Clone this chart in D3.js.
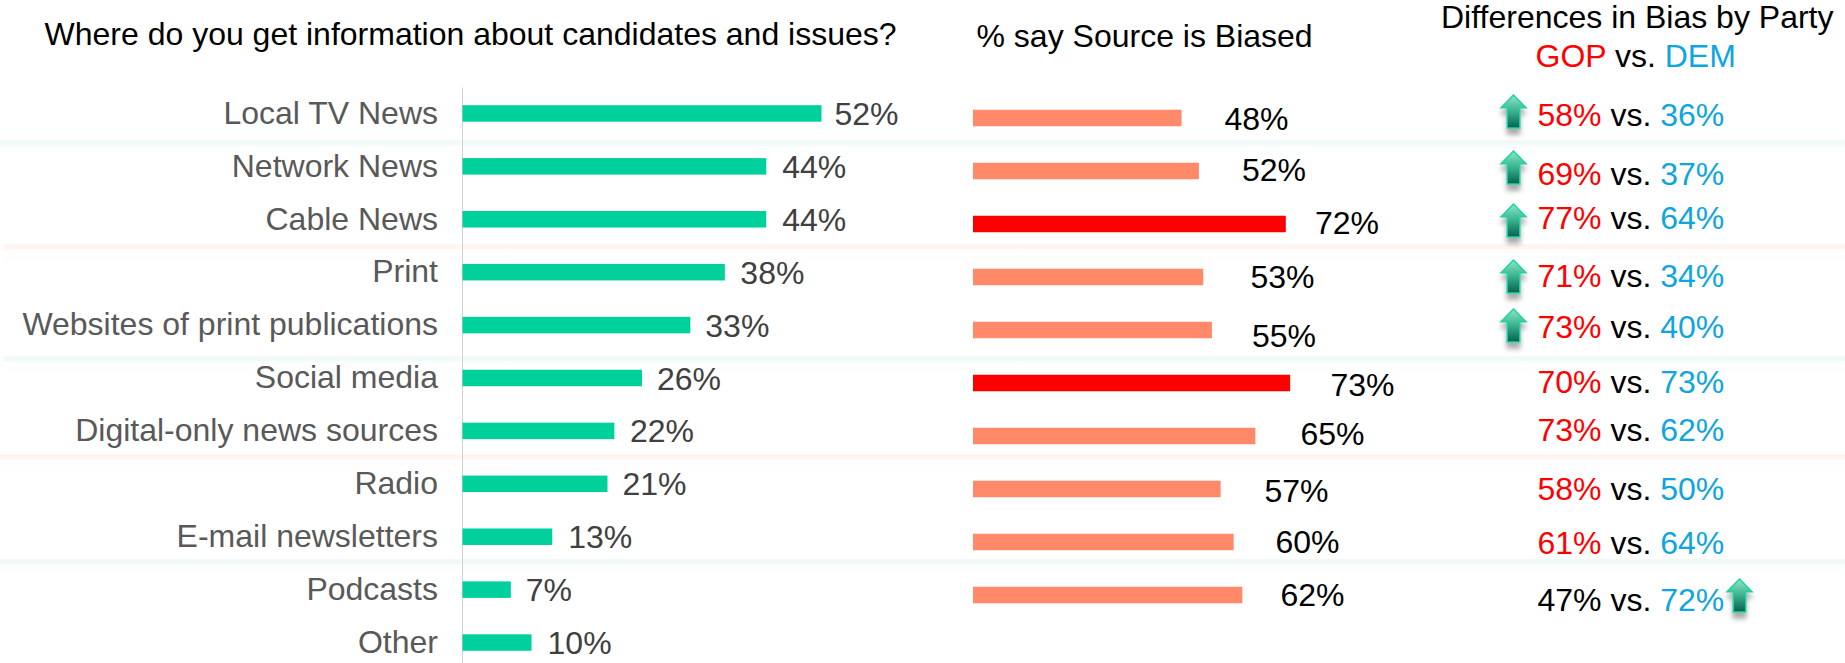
<!DOCTYPE html>
<html>
<head>
<meta charset="utf-8">
<script src="https://cdn.jsdelivr.net/npm/d3@7/dist/d3.min.js"></script>
<style>
  html, body { margin: 0; padding: 0; background: #fff; }
  svg { display: block; font-family: "Liberation Sans", Arial, sans-serif; }
</style>
</head>
<body>
<svg id="chart" width="1845" height="663"></svg>
<script>
// Survey values, all in percent
const sources = ["Local TV News", "Network News", "Cable News", "Print", "Websites of print publications",
  "Social media", "Digital-only news sources", "Radio", "E-mail newsletters", "Podcasts", "Other"];
const usage = [52, 44, 44, 38, 33, 26, 22, 21, 13, 7, 10];
const biased = [48, 52, 72, 53, 55, 73, 65, 57, 60, 62];
const gopBias = [58, 69, 77, 71, 73, 70, 73, 58, 61, 47];
const demBias = [36, 37, 64, 34, 40, 73, 62, 50, 64, 72];
const titleLeft = "Where do you get information about candidates and issues?";
const titleMiddle = "% say Source is Biased";
const titleRight = "Differences in Bias by Party";

// Layout of the labels that do not sit at a fixed distance from their marks
const usageLabelGap = [13, 16, 16, 15.5, 15, 15, 15.5, 15, 16, 15, 16];
const biasedLabelX = [1224.5, 1242, 1315, 1250.5, 1252, 1330.5, 1300.5, 1264.5, 1275.5, 1280.5];
const biasedLabelY = [130, 181, 234, 288, 347, 396, 444.5, 502, 552.5, 605.5];
const partyRowY = [126, 185, 228.5, 287, 338, 393.3, 441.3, 500.3, 554.3, 611];
const arrowTops = [
  { x: 1513.5, y: 95 }, { x: 1513.5, y: 151 }, { x: 1513.5, y: 204 },
  { x: 1513.5, y: 260 }, { x: 1513.5, y: 309 }, { x: 1739.5, y: 579 }
];
const bandRows = [
  { y: 140, x: 0, tint: "#f1faf8" }, { y: 244, x: 4, tint: "#fdf5f1" },
  { y: 356, x: 4, tint: "#f1faf8" }, { y: 454, x: 0, tint: "#fdf5f1" },
  { y: 559, x: 0, tint: "#f1faf8" }
];

const GREEN = "#00d09c", SALMON = "#ff8969", RED = "#ff0000", BLUE = "#0ea5e0";
const FONT_SIZE = 32;

const svg = d3.select("#chart");
const defs = svg.append("defs");

// Arrow fill: pale mint at the tip, dark teal at the foot
const arrowFill = defs.append("linearGradient").attr("id", "arrowFill")
  .attr("x1", 0).attr("x2", 0).attr("y1", 0).attr("y2", 1);
[["0%", "#8fe6c8"], ["45%", "#3fb893"], ["100%", "#07604f"]].forEach(([o, c]) =>
  arrowFill.append("stop").attr("offset", o).attr("stop-color", c));

const arrowShadow = defs.append("filter").attr("id", "arrowShadow")
  .attr("x", "-50%").attr("y", "-30%").attr("width", "200%").attr("height", "170%");
arrowShadow.append("feDropShadow").attr("dx", 0).attr("dy", 6).attr("stdDeviation", 2.5)
  .attr("flood-color", "#000").attr("flood-opacity", 0.33);

// Faint rule bands between groups of rows, each with a soft fade below it
bandRows.forEach((b, i) => {
  const fade = defs.append("linearGradient").attr("id", `fade${i}`)
    .attr("x1", 0).attr("x2", 0).attr("y1", 0).attr("y2", 1);
  fade.append("stop").attr("offset", "0%").attr("stop-color", b.tint).attr("stop-opacity", 0.25);
  fade.append("stop").attr("offset", "100%").attr("stop-color", b.tint).attr("stop-opacity", 0);
  svg.append("rect").attr("x", b.x).attr("y", b.y).attr("width", 1845 - b.x).attr("height", 5).attr("fill", b.tint);
  svg.append("rect").attr("x", b.x).attr("y", b.y + 5).attr("width", 1845 - b.x).attr("height", 14).attr("fill", `url(#fade${i})`);
});

// Headers
svg.append("text").attr("x", 44.5).attr("y", 45).attr("font-size", FONT_SIZE).attr("fill", "#000").text(titleLeft);
svg.append("text").attr("x", 976.5).attr("y", 46.5).attr("font-size", FONT_SIZE).attr("fill", "#000").text(titleMiddle);
svg.append("text").attr("x", 1441).attr("y", 27.5).attr("font-size", FONT_SIZE).attr("fill", "#000").text(titleRight);
const legend = svg.append("text").attr("x", 1535.5).attr("y", 66.5).attr("font-size", FONT_SIZE);
legend.append("tspan").attr("fill", RED).text("GOP");
legend.append("tspan").attr("fill", "#000").text(" vs. ");
legend.append("tspan").attr("fill", BLUE).text("DEM");

// Usage bars
const usageX = d3.scaleLinear().domain([0, 52]).range([462.5, 821.5]);
const usageY = d3.scaleBand().domain(sources).range([87, 669]);
const barHeight = 16.5;

const axis = svg.append("g").attr("transform", "translate(462,0)")
  .call(d3.axisLeft(usageY).tickSize(0).tickPadding(24));
axis.select(".domain").attr("stroke", "#d2d2d2").attr("stroke-width", 1);
axis.selectAll("text").attr("font-size", FONT_SIZE).attr("font-family", "inherit").attr("fill", "#595959");

svg.append("g").selectAll("rect").data(usage).join("rect")
  .attr("x", usageX(0))
  .attr("y", (d, i) => usageY(sources[i]) + usageY.bandwidth() / 2 - barHeight / 2)
  .attr("width", d => usageX(d) - usageX(0))
  .attr("height", barHeight)
  .attr("fill", GREEN);

svg.append("g").selectAll("text").data(usage).join("text")
  .attr("x", (d, i) => usageX(d) + usageLabelGap[i])
  .attr("y", (d, i) => usageY(sources[i]) + usageY.bandwidth() / 2 + 11.5)
  .attr("font-size", FONT_SIZE).attr("fill", "#404040")
  .text(d => `${d}%`);

// Share saying each source is biased; the two highest are picked out in red
const biasX = d3.scaleLinear().domain([0, 72]).range([973, 1285.8]);
const biasY = d3.scaleBand().domain(sources.slice(0, biased.length)).range([91.5, 621.5]);
const topTwo = d3.sort(biased, d => -d).slice(0, 2);

svg.append("g").selectAll("rect").data(biased).join("rect")
  .attr("x", biasX(0))
  .attr("y", (d, i) => biasY(sources[i]) + biasY.bandwidth() / 2 - barHeight / 2)
  .attr("width", d => biasX(d) - biasX(0))
  .attr("height", barHeight)
  .attr("fill", d => topTwo.includes(d) ? RED : SALMON);

svg.append("g").selectAll("text").data(biased).join("text")
  .attr("x", (d, i) => biasedLabelX[i])
  .attr("y", (d, i) => biasedLabelY[i])
  .attr("font-size", FONT_SIZE).attr("fill", "#000")
  .text(d => `${d}%`);

// GOP vs. DEM comparison; Podcasts is the one row where the GOP figure stays black
const party = svg.append("g").selectAll("text").data(gopBias).join("text")
  .attr("x", 1537.5)
  .attr("y", (d, i) => partyRowY[i])
  .attr("font-size", FONT_SIZE);
party.append("tspan").attr("fill", (d, i) => sources[i] === "Podcasts" ? "#000" : RED).text(d => `${d}%`);
party.append("tspan").attr("fill", "#000").text(" vs. ");
party.append("tspan").attr("fill", BLUE).text((d, i) => `${demBias[i]}%`);

// Block arrows flagging the rows with a wide party gap
const arrowShape = d3.line()([[0, 0], [12.5, 12.7], [6.3, 12.7], [6.3, 33], [-6.3, 33], [-6.3, 12.7], [-12.5, 12.7]]) + "Z";
svg.append("g").selectAll("path").data(arrowTops).join("path")
  .attr("transform", d => `translate(${d.x},${d.y})`)
  .attr("d", arrowShape)
  .attr("fill", "url(#arrowFill)")
  .attr("stroke", "#1fd3a2").attr("stroke-width", 1.5).attr("stroke-linejoin", "miter")
  .attr("filter", "url(#arrowShadow)");
</script>
</body>
</html>
